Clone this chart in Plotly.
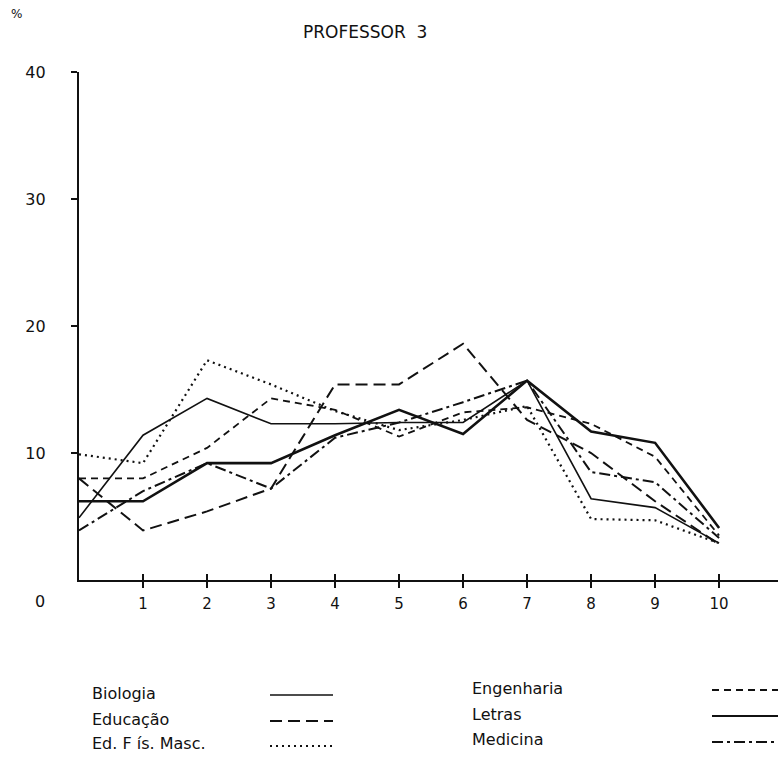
import plotly.graph_objects as go

x_vals = [0, 1, 2, 3, 4, 5, 6, 7, 8, 9, 10]
x_ticks = [1, 2, 3, 4, 5, 6, 7, 8, 9, 10]
y_ticks = [10, 20, 30, 40]

biologia = [4.9, 11.4, 14.3, 12.3, 12.3, 12.4, 12.4, 15.7, 6.4, 5.7, 2.9]
educacao = [8.0, 3.9, 5.4, 7.2, 15.4, 15.4, 18.6, 12.6, 10.0, 6.2, 2.8]
ed_fis = [9.9, 9.2, 17.3, 15.4, 13.3, 11.8, 12.6, 13.7, 4.8, 4.7, 2.9]
engenharia = [8.0, 8.0, 10.4, 14.3, 13.4, 11.3, 13.2, 13.6, 12.3, 9.7, 3.5]
letras = [6.2, 6.2, 9.2, 9.2, 11.4, 13.4, 11.5, 15.7, 11.7, 10.8, 4.1]
medicina = [3.9, 7.0, 9.2, 7.2, 11.2, 12.4, 14.0, 15.7, 8.5, 7.7, 3.3]

series = [
    ("Biologia", biologia, "solid", 1.6),
    ("Educação", educacao, "12px,6px", 2.0),
    ("Ed. F ís. Masc.", ed_fis, "2px,4px", 2.2),
    ("Engenharia", engenharia, "7px,5px", 1.8),
    ("Letras", letras, "solid", 2.6),
    ("Medicina", medicina, "11px,4px,3px,4px", 2.0),
]

W, H = 778, 761
L, R, T, B = 79, 0, 72, 181
PW, PH = W - L - R, H - T - B
FONT = "DejaVu Sans, Verdana, sans-serif"
INK = "#111111"


def px(xp):
    return (xp - L) / PW


def py(yp):
    return (H - B - yp) / PH


fig = go.Figure()
for name, vals, dash, w in series:
    fig.add_trace(go.Scatter(x=x_vals, y=vals, mode="lines", name=name,
                             line=dict(color=INK, width=w, dash=dash),
                             showlegend=False))

# invisible trace for the second (inside-tick) x axis
fig.add_trace(go.Scatter(x=x_vals, y=biologia, xaxis="x2", yaxis="y", mode="markers",
                         marker=dict(opacity=0), showlegend=False, hoverinfo="skip"))

fig.update_layout(
    width=W, height=H,
    margin=dict(l=L, r=R, t=T, b=B),
    paper_bgcolor="white", plot_bgcolor="white",
    font=dict(family=FONT, size=15, color=INK),
    xaxis=dict(range=[0, 10.92], tickvals=x_ticks, ticktext=[str(v) for v in x_ticks],
               showgrid=False, zeroline=False, showline=True, linecolor=INK,
               linewidth=1.6, ticks="outside", ticklen=6, tickwidth=1.5,
               tickcolor=INK, ticklabelstandoff=3,
               tickfont=dict(family=FONT, size=15, color=INK)),
    xaxis2=dict(overlaying="x", anchor="y", range=[0, 10.92], tickvals=x_ticks,
                showticklabels=False, showgrid=False, zeroline=False, showline=False,
                ticks="inside", ticklen=6, tickwidth=1.5, tickcolor=INK,
                side="bottom"),
    yaxis=dict(range=[0, 40], tickvals=y_ticks, ticktext=[str(v) for v in y_ticks],
               showgrid=False, zeroline=False, showline=True, linecolor=INK,
               linewidth=2.2, ticks="outside", ticklen=6, tickwidth=1.8,
               tickcolor=INK, ticklabelstandoff=22,
               tickfont=dict(family=FONT, size=16, color=INK)),
)

annotations = [
    dict(text="PROFESSOR  3", x=px(365), y=py(32), xref="paper", yref="paper",
         showarrow=False, xanchor="center", yanchor="middle",
         font=dict(family=FONT, size=17, color=INK)),
    dict(text="%", x=px(16), y=py(14), xref="paper", yref="paper",
         showarrow=False, xanchor="center", yanchor="middle",
         font=dict(family=FONT, size=12, color=INK)),
    dict(text="0", x=px(40), y=py(601), xref="paper", yref="paper",
         showarrow=False, xanchor="center", yanchor="middle",
         font=dict(family=FONT, size=16, color=INK)),
]

# manual legend: label on the left, line sample on the right
legend_pos = [
    (90, 693, 270, 333),
    (90, 719, 270, 333),
    (90, 744, 270, 333),
    (470, 688, 712, 778),
    (470, 714, 712, 778),
    (470, 740, 712, 778),
]
shapes = []
for (name, vals, dash, w), (tx, ty, sx0, sx1) in zip(series, legend_pos):
    annotations.append(dict(text=name, x=px(tx), y=py(ty),
                            xref="paper", yref="paper", showarrow=False,
                            xanchor="left", yanchor="middle",
                            font=dict(family=FONT, size=16, color=INK)))
    shapes.append(dict(type="line", xref="paper", yref="paper",
                       x0=px(sx0), x1=px(sx1), y0=py(ty + 2), y1=py(ty + 2),
                       line=dict(color=INK, width=min(w, 2.0), dash=dash)))

fig.update_layout(annotations=annotations, shapes=shapes)
fig.write_html("out.html")
